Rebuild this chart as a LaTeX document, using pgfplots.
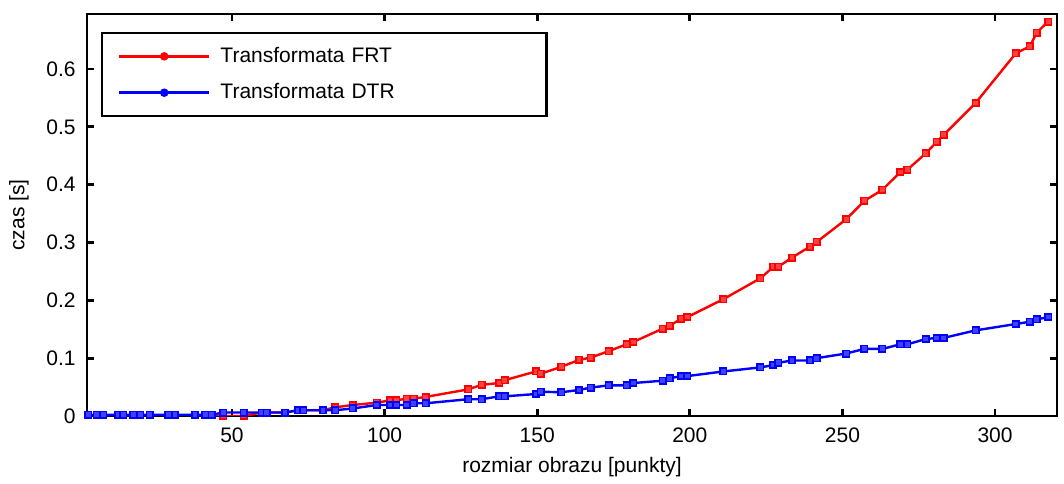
\documentclass[border=0pt]{standalone}
\usepackage{pgfplots}
\pgfplotsset{compat=1.18}
\usepackage{fontspec}
\setmainfont{Liberation Sans}
\begin{document}
\fontsize{10.5}{12.5}\selectfont
\begin{tikzpicture}
\begin{axis}[
  scale only axis,
  width=485pt, height=201pt,
  xmin=2.5, xmax=320.3, ymin=0, ymax=0.695,
  xtick={50,100,150,200,250,300},
  ytick={0,0.1,0.2,0.3,0.4,0.5,0.6},
  yticklabels={0,0.1,0.2,0.3,0.4,0.5,0.6},
  /pgf/number format/assume math mode=true,
  tick align=inside,
  major tick length=3.5pt,
  axis line style={line width=1.4pt},
  every tick/.style={black, line width=1.4pt},
  tick label style={font=\fontsize{10.5}{12.5}\selectfont},
  yticklabel style={xshift=-2pt},
  xticklabel style={yshift=-2pt},
  label style={font=\fontsize{10.5}{12.5}\selectfont},
  xlabel={rozmiar obrazu [punkty]},
  ylabel={czas [s]},
  xlabel style={at={(axis description cs:0.5,-0.127)}, anchor=center},
  ylabel style={at={(axis description cs:-0.0701,0.5)}, anchor=center},
  legend style={at={(0.0144,0.955)}, anchor=north west, draw=black, line width=1.1pt,
    font=\fontsize{10.5}{12.5}\selectfont, nodes={text width=158pt, align=left},
    row sep=5pt, inner ysep=5pt},
  legend cell align=left,
  legend image code/.code={
    \path (0pt,0pt) (53pt,0pt);
    \draw[#1, line width=1.3pt] (5pt,0cm) -- (50pt,0cm);
    \fill[#1] (27.5pt,0cm) circle (1.5pt);
  },
]
\addplot[red, line width=1.2pt, mark=square*, mark size=1.6pt, mark options={fill=red!75, draw=red, line width=0.8pt}] coordinates {
(2.9,0.001)(5.7,0.001)(7.8,0.001)(12.7,0.001)(14.4,0.001)(17.7,0.001)(19.9,0.001)(23.1,0.001)(29.1,0.001)(31.3,0.001)(37.9,0.001)(41.2,0.001)(43.3,0.001)
(47.1,0.0)(53.9,0.0)(59.7,0.006)(61.4,0.006)(67.4,0.006)(71.7,0.010)(73.4,0.010)(79.8,0.010)(83.8,0.015)(89.6,0.019)(97.4,0.023)(101.8,0.027)(103.8,0.027)(107.2,0.030)(109.6,0.030)(113.5,0.033)
(127.4,0.046)(131.8,0.054)(137.6,0.057)(139.4,0.062)(149.6,0.077)(151.1,0.073)(157.9,0.085)(163.7,0.097)(167.5,0.101)(173.4,0.112)(179.3,0.124)(181.5,0.128)(191.1,0.151)(193.4,0.156)(197.1,0.168)(199.2,0.171)
(211.0,0.202)(223.1,0.238)(227.4,0.258)(229.0,0.258)(233.5,0.274)(239.4,0.293)(241.6,0.301)(251.2,0.340)(257.2,0.372)(263.1,0.391)(269.0,0.422)(271.3,0.426)(277.3,0.454)(280.9,0.474)(283.2,0.486)(293.6,0.541)(306.8,0.627)(311.4,0.639)(313.7,0.663)(317.4,0.682)
};
\addlegendentry{Transformata FRT}
\addplot[blue, line width=1.2pt, mark=square*, mark size=1.6pt, mark options={fill=blue!75, draw=blue, line width=0.8pt}] coordinates {
(2.9,0.002)(5.7,0.002)(7.8,0.002)(12.7,0.002)(14.4,0.002)(17.7,0.002)(19.9,0.002)(23.1,0.002)(29.1,0.002)(31.3,0.002)(37.9,0.002)(41.2,0.002)(43.3,0.002)
(47.1,0.006)(53.9,0.006)(59.7,0.006)(61.4,0.006)(67.4,0.006)(71.7,0.010)(73.4,0.010)(79.8,0.010)(83.8,0.010)(89.6,0.013)(97.4,0.019)(101.8,0.019)(103.8,0.019)(107.2,0.019)(109.6,0.022)(113.5,0.022)
(127.4,0.029)(131.8,0.029)(137.6,0.034)(139.4,0.034)(149.6,0.038)(151.1,0.042)(157.9,0.041)(163.7,0.045)(167.5,0.049)(173.4,0.053)(179.3,0.053)(181.5,0.057)(191.1,0.061)(193.4,0.065)(197.1,0.069)(199.2,0.069)
(211.0,0.077)(223.1,0.084)(227.4,0.088)(229.0,0.092)(233.5,0.096)(239.4,0.096)(241.6,0.100)(251.2,0.108)(257.2,0.116)(263.1,0.116)(269.0,0.124)(271.3,0.124)(277.3,0.133)(280.9,0.135)(283.2,0.135)(293.6,0.148)(306.8,0.159)(311.4,0.163)(313.7,0.167)(317.4,0.171)
};
\addlegendentry{Transformata DTR}
\end{axis}
\path ([xshift=-43.5pt,yshift=-32.5pt]current axis.south west) rectangle ([xshift=3.5pt,yshift=7pt]current axis.north east);
\end{tikzpicture}
\end{document}
